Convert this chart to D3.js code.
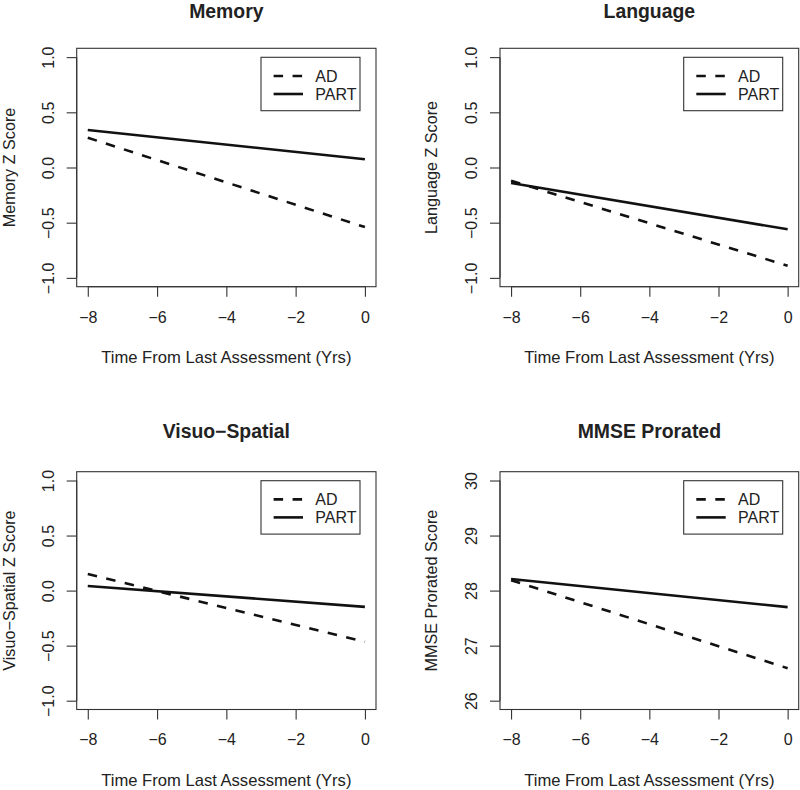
<!DOCTYPE html>
<html>
<head>
<meta charset="utf-8">
<script src="https://cdn.jsdelivr.net/npm/d3@7"></script>
<style>
  html, body { margin: 0; padding: 0; background: #fff; }
  svg { display: block; font-family: "Liberation Sans", Arial, Helvetica, sans-serif; }
</style>
</head>
<body>
<svg id="chart" width="800" height="790"></svg>
<script>
// ---------- data ----------
const panelTitles = ["Memory", "Language", "Visuo\u2212Spatial", "MMSE Prorated"];
const yAxisTitles = ["Memory Z Score", "Language Z Score", "Visuo\u2212Spatial Z Score", "MMSE Prorated Score"];
const xAxisTitle = "Time From Last Assessment (Yrs)";
const timePoints = [-8, 0];
const xTicks = [-8, -6, -4, -2, 0];
const zTicks = [-1.0, -0.5, 0.0, 0.5, 1.0];
const mmseTicks = [26, 27, 28, 29, 30];
const zLimits = [-1, 1];
const mmseLimits = [26, 30];
const seriesNames = ["AD", "PART"];

const memoryAD = [0.27, -0.54];
const memoryPART = [0.34, 0.075];
const languageAD = [-0.12, -0.89];
const languagePART = [-0.14, -0.56];
const visuoAD = [0.15, -0.465];
const visuoPART = [0.042, -0.148];
const mmseAD = [28.19, 26.59];
const mmsePART = [28.21, 27.70];

// ---------- layout ----------
const panels = [
  { title: panelTitles[0], ylab: yAxisTitles[0], ad: memoryAD, part: memoryPART, ticks: zTicks, lim: zLimits, fmt: d3.format(".1f"),
    box: { l: 76.7, r: 376, t: 48.3, b: 286.7 } },
  { title: panelTitles[1], ylab: yAxisTitles[1], ad: languageAD, part: languagePART, ticks: zTicks, lim: zLimits, fmt: d3.format(".1f"),
    box: { l: 500, r: 798.7, t: 48.3, b: 286.7 } },
  { title: panelTitles[2], ylab: yAxisTitles[2], ad: visuoAD, part: visuoPART, ticks: zTicks, lim: zLimits, fmt: d3.format(".1f"),
    box: { l: 76.7, r: 376, t: 471.7, b: 709.5 } },
  { title: panelTitles[3], ylab: yAxisTitles[3], ad: mmseAD, part: mmsePART, ticks: mmseTicks, lim: mmseLimits, fmt: d3.format("d"),
    box: { l: 500, r: 798.7, t: 471.7, b: 709.5 } }
];

const svg = d3.select("#chart");
const txt = "#222";
const axisCol = "#333";
const lineCol = "#111";
const minus = s => s.replace("-", "\u2212");
const ext = (lim) => { const d = (lim[1] - lim[0]) * 0.04; return [lim[0] - d, lim[1] + d]; };

panels.forEach(p => {
  const b = p.box;
  const x = d3.scaleLinear().domain(ext([d3.min(xTicks), d3.max(xTicks)])).range([b.l, b.r]);
  const y = d3.scaleLinear().domain(ext(p.lim)).range([b.b, b.t]);
  const g = svg.append("g");

  // plot box
  g.append("rect").attr("x", b.l).attr("y", b.t).attr("width", b.r - b.l).attr("height", b.b - b.t)
    .attr("fill", "none").attr("stroke", axisCol).attr("stroke-width", 1.1);

  // x axis (R style: line spans from first to last tick)
  const xa = g.append("g").attr("transform", `translate(0,${b.b})`)
    .call(d3.axisBottom(x).tickValues(xTicks).tickSize(10).tickPadding(14.5).tickSizeOuter(0)
      .tickFormat(d => minus(d3.format("d")(d))));
  xa.select(".domain").attr("d", `M${x(xTicks[0])},0H${x(xTicks[xTicks.length - 1])}`).attr("stroke", axisCol).attr("stroke-width", 1.1);
  xa.selectAll(".tick line").attr("stroke", axisCol).attr("stroke-width", 1.1);
  xa.selectAll(".tick text").attr("fill", txt).attr("font-size", 16).attr("font-family", null);

  // y axis with rotated labels
  const ya = g.append("g").attr("transform", `translate(${b.l},0)`)
    .call(d3.axisLeft(y).tickValues(p.ticks).tickSize(10).tickSizeOuter(0).tickFormat(d => minus(p.fmt(d))));
  ya.select(".domain").attr("d", `M0,${y(p.ticks[0])}V${y(p.ticks[p.ticks.length - 1])}`).attr("stroke", axisCol).attr("stroke-width", 1.1);
  ya.selectAll(".tick line").attr("stroke", axisCol).attr("stroke-width", 1.1);
  ya.selectAll(".tick text")
    .attr("x", null).attr("dy", null)
    .attr("transform", "translate(-23,0) rotate(-90)")
    .attr("text-anchor", "middle")
    .attr("fill", txt).attr("font-size", 16).attr("font-family", null);

  // title
  g.append("text").attr("x", (b.l + b.r) / 2).attr("y", Math.max(b.t - 33.5, 17.5))
    .attr("text-anchor", "middle").attr("font-weight", "bold").attr("font-size", 19.4).attr("fill", txt)
    .text(p.title);

  // axis titles
  g.append("text").attr("x", (b.l + b.r) / 2).attr("y", b.b + 76)
    .attr("text-anchor", "middle").attr("font-size", 16.6).attr("fill", txt).text(xAxisTitle);
  g.append("text")
    .attr("transform", `translate(${Math.max(b.l - 63.5, 15)},${(b.t + b.b) / 2}) rotate(-90)`)
    .attr("text-anchor", "middle").attr("font-size", 16.2).attr("fill", txt).text(p.ylab);

  // lines
  const line = d3.line().x((d, i) => x(timePoints[i])).y(d => y(d));
  g.append("path").datum(p.ad).attr("d", line).attr("fill", "none").attr("stroke", lineCol)
    .attr("stroke-width", 2.6).attr("stroke-dasharray", "9.5,9.5");
  g.append("path").datum(p.part).attr("d", line).attr("fill", "none").attr("stroke", lineCol)
    .attr("stroke-width", 2.6);

  // legend
  const lw = 99, lh = 53.4;
  const lx = b.r - 16 - lw, ly = b.t + 9;
  const lg = g.append("g").attr("transform", `translate(${lx},${ly})`);
  lg.append("rect").attr("width", lw).attr("height", lh).attr("fill", "#fff")
    .attr("stroke", axisCol).attr("stroke-width", 1.1);
  seriesNames.forEach((nm, i) => {
    const yy = 18.7 + i * 18;
    lg.append("line").attr("x1", 12.6).attr("x2", 42).attr("y1", yy).attr("y2", yy)
      .attr("stroke", lineCol).attr("stroke-width", 2.6)
      .attr("stroke-dasharray", i === 0 ? "9.5,9.5" : null);
    lg.append("text").attr("x", 54.3).attr("y", yy + 5.8).attr("font-size", 16).attr("fill", txt).text(nm);
  });
});
</script>
</body>
</html>
